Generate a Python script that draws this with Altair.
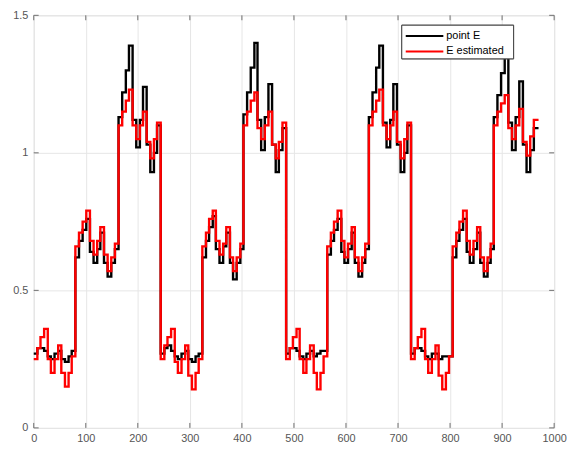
import altair as alt
import pandas as pd

SERIES = ["point E", "E estimated"]
COLORS = ["#000000", "#ff0000"]

# sample instants (breakpoints of the staircase)
X = [0, 7, 13, 20, 27, 33, 40, 47, 53, 60, 67, 73,
     80, 87, 94, 101, 108, 115, 122, 128, 135, 142, 149, 156,
     163, 170, 177, 183, 190, 197, 204, 210, 217, 224, 231, 237,
     244, 251, 257, 264, 271, 277, 284, 291, 297, 304, 311, 317,
     324, 331, 337, 344, 350, 357, 364, 370, 377, 383, 390, 397,
     403, 410, 417, 424, 430, 437, 444, 451, 458, 465, 471, 478,
     485, 492, 498, 505, 511, 518, 524, 531, 538, 544, 551, 557,
     564, 571, 577, 584, 591, 597, 604, 611, 617, 624, 631, 637,
     644, 651, 658, 664, 671, 678, 685, 691, 698, 705, 712, 718,
     725, 732, 738, 745, 752, 758, 765, 772, 778, 785, 792, 798,
     805, 812, 818, 825, 832, 838, 845, 852, 858, 865, 872, 878,
     884, 891, 898, 905, 912, 919, 926, 933, 940, 947, 954, 961, 970]

POINT_E = [
    0.27, 0.29, 0.29, 0.28, 0.26, 0.25, 0.27, 0.28, 0.25, 0.24, 0.26, 0.28,
    0.62, 0.68, 0.72, 0.76, 0.64, 0.60, 0.65, 0.71, 0.60, 0.55, 0.60, 0.65,
    1.13, 1.22, 1.30, 1.39, 1.12, 1.02, 1.12, 1.24, 1.03, 0.93, 1.00, 1.10,
    0.27, 0.29, 0.30, 0.28, 0.26, 0.25, 0.27, 0.28, 0.25, 0.24, 0.26, 0.27,
    0.62, 0.68, 0.73, 0.77, 0.65, 0.60, 0.66, 0.71, 0.60, 0.54, 0.60, 0.65,
    1.14, 1.22, 1.31, 1.40, 1.12, 1.01, 1.13, 1.25, 1.03, 0.93, 1.01, 1.09,
    0.27, 0.29, 0.29, 0.28, 0.26, 0.25, 0.27, 0.28, 0.26, 0.27, 0.28, 0.28,
    0.63, 0.68, 0.72, 0.76, 0.64, 0.60, 0.65, 0.71, 0.60, 0.55, 0.60, 0.65,
    1.13, 1.22, 1.31, 1.39, 1.11, 1.02, 1.12, 1.25, 1.03, 0.93, 1.00, 1.10,
    0.27, 0.29, 0.29, 0.28, 0.26, 0.25, 0.27, 0.27, 0.25, 0.26, 0.26, 0.26,
    0.62, 0.68, 0.72, 0.76, 0.64, 0.60, 0.65, 0.71, 0.60, 0.55, 0.60, 0.65,
    1.13, 1.21, 1.29, 1.36, 1.11, 1.01, 1.13, 1.26, 1.03, 0.93, 1.01, 1.09, 1.09]

E_ESTIMATED = [
    0.25, 0.29, 0.33, 0.36, 0.25, 0.20, 0.25, 0.30, 0.20, 0.15, 0.20, 0.26,
    0.66, 0.71, 0.75, 0.79, 0.68, 0.63, 0.68, 0.73, 0.63, 0.57, 0.62, 0.67,
    1.10, 1.15, 1.19, 1.23, 1.10, 1.05, 1.10, 1.15, 1.04, 0.98, 1.05, 1.11,
    0.25, 0.30, 0.33, 0.36, 0.24, 0.20, 0.25, 0.30, 0.19, 0.14, 0.20, 0.25,
    0.66, 0.71, 0.76, 0.79, 0.68, 0.63, 0.67, 0.73, 0.62, 0.57, 0.62, 0.67,
    1.10, 1.15, 1.19, 1.22, 1.09, 1.05, 1.10, 1.15, 1.03, 0.98, 1.04, 1.11,
    0.25, 0.29, 0.33, 0.36, 0.25, 0.20, 0.25, 0.30, 0.20, 0.14, 0.20, 0.26,
    0.66, 0.71, 0.75, 0.79, 0.68, 0.62, 0.67, 0.73, 0.62, 0.57, 0.62, 0.67,
    1.10, 1.15, 1.19, 1.23, 1.10, 1.05, 1.10, 1.15, 1.04, 0.98, 1.05, 1.11,
    0.25, 0.29, 0.33, 0.36, 0.25, 0.20, 0.25, 0.30, 0.19, 0.14, 0.20, 0.26,
    0.66, 0.71, 0.75, 0.79, 0.68, 0.63, 0.68, 0.73, 0.62, 0.57, 0.62, 0.67,
    1.10, 1.15, 1.18, 1.21, 1.09, 1.05, 1.10, 1.16, 1.04, 0.99, 1.06, 1.12, 1.12]

X_TICKS = [0, 100, 200, 300, 400, 500, 600, 700, 800, 900, 1000]
Y_TICKS = [0, 0.5, 1, 1.5]

W, H = 526, 417
AXIS_GRAY = "#6e6e6e"
FONT = "Liberation Sans"

df = pd.DataFrame({"x": X, "point E": POINT_E, "E estimated": E_ESTIMATED})
xt = pd.DataFrame({"t": X_TICKS})
yt = pd.DataFrame({"t": Y_TICKS})
leg = pd.DataFrame({"name": SERIES})

xs = alt.Scale(domain=[0, 1000], nice=False)
ys = alt.Scale(domain=[0, 1.5], nice=False)

xax = alt.Axis(values=X_TICKS, grid=True, gridColor="#e6e6e6", ticks=False,
               domain=False, labelColor="#555555", labelFontSize=11, labelFont=FONT,
               labelPadding=5, title=None, labelFlush=False, format="d")
yax = alt.Axis(values=Y_TICKS, grid=True, gridColor="#e6e6e6", ticks=False,
               domain=False, labelColor="#555555", labelFontSize=11, labelFont=FONT,
               labelPadding=6, title=None, format="~g")

black = alt.Chart(df).mark_line(interpolate="step-after", color=COLORS[0], strokeWidth=2.4).encode(
    x=alt.X("x:Q", scale=xs, axis=xax),
    y=alt.Y("point E:Q", scale=ys, axis=yax),
)
red = alt.Chart(df).mark_line(interpolate="step-after", color=COLORS[1], strokeWidth=2.4).encode(
    x=alt.X("x:Q", scale=xs),
    y=alt.Y("E estimated:Q", scale=ys),
)

tick_b = alt.Chart(xt).mark_rule(color=AXIS_GRAY).encode(
    x=alt.X("t:Q", scale=xs), y=alt.value(H), y2=alt.value(H - 5))
tick_t = alt.Chart(xt).mark_rule(color=AXIS_GRAY).encode(
    x=alt.X("t:Q", scale=xs), y=alt.value(0), y2=alt.value(5))
tick_l = alt.Chart(yt).mark_rule(color=AXIS_GRAY).encode(
    y=alt.Y("t:Q", scale=ys), x=alt.value(0), x2=alt.value(5))
tick_r = alt.Chart(yt).mark_rule(color=AXIS_GRAY).encode(
    y=alt.Y("t:Q", scale=ys), x=alt.value(W), x2=alt.value(W - 5))

# legend box
LX, LY = 372, 10
box = alt.Chart(leg).mark_rect(fill="white", stroke="#444444", strokeWidth=1).encode(
    x=alt.value(LX), x2=alt.value(LX + 113), y=alt.value(LY), y2=alt.value(LY + 34))
leg_parts = []
for i, (name, col) in enumerate(zip(SERIES, COLORS)):
    yy = LY + 11 + i * 15.5
    sub = leg[leg["name"] == name]
    leg_parts.append(alt.Chart(sub).mark_rule(color=col, strokeWidth=2).encode(
        x=alt.value(LX + 4), x2=alt.value(LX + 42), y=alt.value(yy)))
    leg_parts.append(alt.Chart(sub).mark_text(align="left", baseline="middle", fontSize=11,
                                              font=FONT, color="#000000").encode(
        x=alt.value(LX + 45), y=alt.value(yy), text="name:N"))

chart = alt.layer(black, red, tick_b, tick_t, tick_l, tick_r, box, *leg_parts).properties(
    width=W, height=H,
    autosize=alt.AutoSizeParams(type="none"),
    padding={"left": 26, "top": 5, "right": 14, "bottom": 25},
).configure_view(stroke=AXIS_GRAY, strokeWidth=1).configure(background="white")

chart.save("out.html", embed_options={"renderer": "svg", "actions": False})
